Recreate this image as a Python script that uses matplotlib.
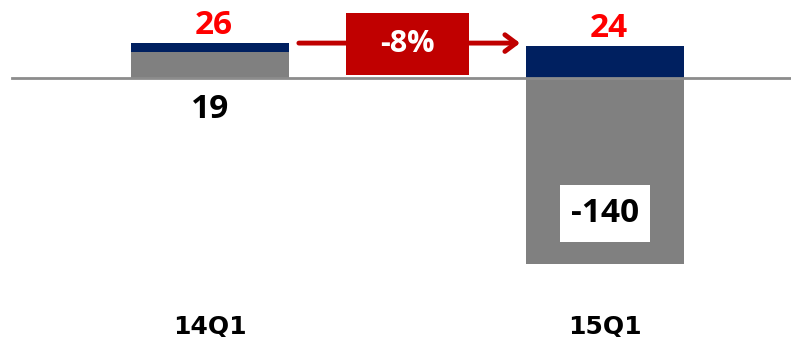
import matplotlib
matplotlib.use('Agg')
from matplotlib import pyplot as plt
from matplotlib.patches import Rectangle, FancyArrowPatch

categories = ['14Q1', '15Q1']
gray_values = [19, -140]
navy_values = [7, 24]
totals = [26, 24]
change_label = '-8%'

GRAY = '#808080'
NAVY = '#002060'
RED = '#FF0000'
DARK_RED = '#C00000'
FONT = 'Open Sans'

fig = plt.figure(figsize=(7.91, 3.37), dpi=100)
ax = fig.add_axes([0, 0, 1, 1])
ax.set_xlim(-0.5316, 1.4709)
ax.set_ylim(-195.1, 58.3)
ax.axis('off')

x = list(range(len(categories)))
width = 0.4
ax.bar(x, gray_values, width, color=GRAY, zorder=2)
navy_bottom = [max(v, 0) for v in gray_values]
ax.bar(x, navy_values, width, bottom=navy_bottom, color=NAVY, zorder=2)

# baseline
ax.axhline(0, xmin=0.015, xmax=1, color='#8c8c8c', lw=2, zorder=3)

# totals in red above the bars
for xi, g, n, t in zip(x, navy_bottom, navy_values, totals):
    ax.text(xi + 0.01, g + n + 6.5, str(t), color=RED, fontsize=24, fontweight='bold',
            family=FONT, ha='center', va='baseline')

# gray values
for xi, g in zip(x, gray_values):
    if g >= 0:
        ax.text(xi, -30.5, str(g), color='black', fontsize=24, fontweight='bold',
                family=FONT, ha='center', va='baseline')
    else:
        ax.add_patch(Rectangle((xi - 0.114, -123.7), 0.228, 42.9,
                               facecolor='white', edgecolor='none', zorder=4))
        ax.text(xi, -102, str(g), color='black', fontsize=24, fontweight='bold',
                family=FONT, ha='center', va='center', zorder=5)

# change arrow with box
arrow = FancyArrowPatch((x[0] + width / 2 + 0.018, 25.9), (x[1] - width / 2 - 0.008, 25.9),
                        arrowstyle='->,head_length=8,head_width=6', color=DARK_RED,
                        lw=3.5, zorder=3)
ax.add_patch(arrow)
mid = (x[0] + x[1]) / 2
ax.add_patch(Rectangle((mid - 0.155, 1.9), 0.31, 46.6, facecolor=DARK_RED,
                       edgecolor='none', zorder=4))
ax.text(mid, 25.0, change_label, color='white', fontsize=22, fontweight='bold',
        family=FONT, ha='center', va='center', zorder=5)

# category labels
for xi, c in zip(x, categories):
    ax.text(xi, -192.5, c, color='black', fontsize=18, fontweight='bold',
            ha='center', va='baseline')

fig.savefig('out.png', dpi=100)
